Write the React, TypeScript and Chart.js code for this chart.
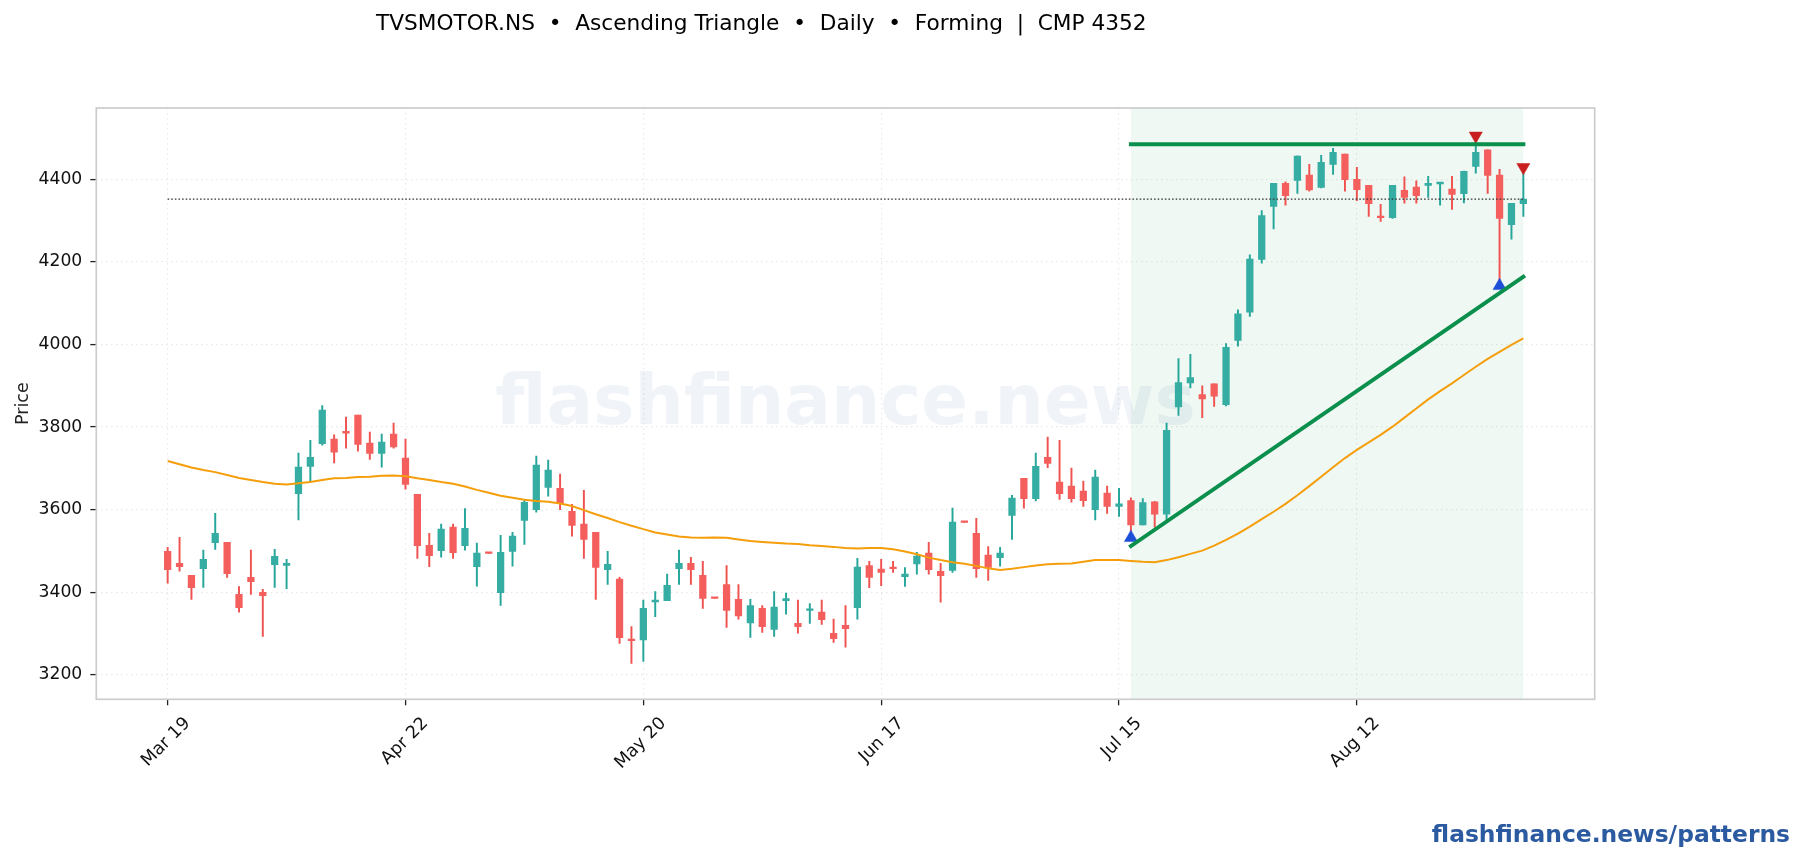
import React, { useEffect, useRef } from "react";
import { Chart, registerables } from "chart.js";

Chart.register(...registerables);

const titleText = "TVSMOTOR.NS  •  Ascending Triangle  •  Daily  •  Forming  |  CMP 4352";
const watermarkText = "flashfinance.news";
const footerText = "flashfinance.news/patterns";
const yAxisLabel = "Price";

const tickIndexes = [0, 20, 40, 60, 80, 100];
const tickDates = ["Mar 19", "Apr 22", "May 20", "Jun 17", "Jul 15", "Aug 12"];
const priceTicks = [3200, 3400, 3600, 3800, 4000, 4200, 4400];

const opens = [3499,3470,3441,3457,3520,3521,3395,3436,3400,3467,3465,3639,3705,3760,3771,3790,3829,3761,3736,3783,3725,3637,3514,3501,3558,3513,3462,3495,3399,3499,3574,3600,3654,3652,3596,3565,3545,3455,3432,3287,3285,3377,3380,3457,3470,3441,3386,3419,3383,3326,3361,3310,3380,3325,3356,3352,3301,3320,3363,3465,3456,3461,3438,3469,3495,3451,3453,3570,3543,3490,3484,3586,3676,3627,3727,3667,3657,3645,3600,3640,3608,3622,3563,3619,3589,3849,3907,3879,3905,3854,4010,4078,4206,4334,4390,4397,4410,4380,4436,4461,4400,4385,4309,4307,4373,4381,4385,4389,4376,4365,4431,4471,4410,4290,4341];
const highs = [3509,3533,3441,3502,3591,3521,3414,3502,3407,3504,3480,3737,3768,3852,3781,3824,3829,3788,3783,3810,3771,3637,3543,3565,3565,3603,3519,3495,3538,3545,3624,3730,3720,3686,3613,3647,3545,3499,3436,3317,3381,3402,3444,3502,3485,3475,3386,3465,3419,3383,3368,3402,3398,3381,3373,3381,3335,3368,3482,3475,3480,3475,3460,3497,3521,3470,3604,3570,3579,3511,3509,3635,3676,3737,3776,3768,3701,3669,3696,3657,3652,3629,3627,3620,3810,3966,3976,3900,3905,4002,4084,4217,4324,4390,4394,4457,4436,4458,4475,4461,4429,4385,4339,4385,4406,4396,4407,4391,4407,4420,4490,4471,4424,4342,4415];
const lows = [3422,3451,3383,3412,3504,3436,3352,3395,3293,3412,3409,3575,3666,3756,3713,3749,3742,3722,3703,3749,3650,3482,3462,3485,3482,3502,3415,3494,3368,3463,3516,3594,3633,3600,3536,3482,3383,3419,3276,3228,3233,3341,3380,3419,3419,3361,3385,3315,3335,3291,3303,3293,3347,3301,3325,3322,3279,3267,3335,3411,3416,3448,3414,3444,3444,3376,3448,3569,3436,3429,3463,3528,3604,3621,3702,3625,3618,3608,3575,3591,3584,3547,3563,3558,3574,3828,3895,3823,3850,3851,3996,4068,4197,4280,4337,4366,4371,4379,4412,4371,4348,4310,4298,4305,4342,4342,4356,4337,4327,4343,4415,4366,4150,4255,4310];
const closes = [3455,3462,3411,3480,3543,3445,3363,3426,3392,3487,3470,3703,3727,3841,3739,3785,3758,3736,3764,3752,3661,3513,3489,3553,3496,3555,3495,3494,3497,3536,3618,3708,3696,3615,3562,3528,3460,3468,3290,3283,3361,3381,3417,3470,3455,3385,3385,3356,3343,3368,3317,3364,3385,3317,3359,3334,3288,3312,3461,3436,3448,3457,3444,3488,3455,3440,3570,3569,3457,3460,3495,3628,3627,3705,3712,3639,3627,3622,3679,3608,3614,3563,3617,3589,3792,3908,3920,3868,3875,3993,4074,4207,4312,4390,4360,4456,4374,4441,4465,4399,4375,4341,4307,4385,4356,4360,4390,4391,4363,4419,4465,4409,4305,4342,4352];
const movingAverage = [3718,3710,3702,3696,3691,3684,3677,3672,3667,3663,3661,3664,3667,3672,3676,3677,3679,3680,3682,3683,3681,3676,3672,3667,3663,3656,3648,3641,3634,3629,3624,3621,3619,3615,3609,3599,3589,3580,3570,3561,3553,3545,3540,3535,3533,3532,3533,3532,3528,3524,3522,3520,3518,3517,3514,3512,3510,3507,3506,3507,3507,3504,3499,3492,3484,3478,3473,3469,3464,3458,3454,3457,3461,3465,3468,3469,3470,3474,3478,3478,3478,3476,3474,3473,3478,3485,3493,3501,3513,3527,3542,3559,3577,3595,3614,3635,3657,3680,3703,3725,3745,3763,3781,3801,3823,3845,3867,3887,3906,3926,3946,3965,3982,3999,4015];

const patternIndexes = [81, 114];
const resistancePrices = [4485, 4485];
const supportPrices = [3512, 4164];
const cmpIndexes = [0, 114];
const cmpPrices = [4352, 4352];
const topMarkerIndexes = [110, 114];
const topMarkerPrices = [4505, 4429];
const bottomMarkerIndexes = [81, 112];
const bottomMarkerPrices = [3532, 4142];

const FONT = "'DejaVu Sans'";
const WIDTH = 1804;
const HEIGHT = 860;

const decorations = {
  id: "decorations",
  beforeDatasetsDraw(chart: any) {
    const { ctx, chartArea: a, scales } = chart;
    const x0 = scales.x.getPixelForValue(patternIndexes[0]);
    const x1 = scales.x.getPixelForValue(patternIndexes[1]);
    ctx.save();
    ctx.fillStyle = "rgba(11,143,77,0.065)";
    ctx.fillRect(x0, a.top, x1 - x0, a.bottom - a.top);
    ctx.fillStyle = "rgba(44,90,160,0.07)";
    ctx.font = `bold 69.2px ${FONT}`;
    ctx.textAlign = "center";
    ctx.textBaseline = "alphabetic";
    ctx.fillText(watermarkText, (a.left + a.right) / 2, 424);
    ctx.restore();
  },
  afterDraw(chart: any) {
    const { ctx, chartArea: a } = chart;
    ctx.save();
    ctx.strokeStyle = "#cccccc";
    ctx.lineWidth = 1.7;
    ctx.strokeRect(a.left, a.top, a.right - a.left, a.bottom - a.top);
    ctx.fillStyle = "#000000";
    ctx.font = `21.67px ${FONT}`;
    ctx.textAlign = "left";
    ctx.textBaseline = "alphabetic";
    ctx.fillText(titleText, 376, 30);
    ctx.fillStyle = "#2c5aa0";
    ctx.font = `bold 23.4px ${FONT}`;
    ctx.textAlign = "right";
    ctx.fillText(footerText, 1790, 842);
    ctx.restore();
  },
};

export default function App() {
  const ref = useRef<HTMLCanvasElement | null>(null);
  useEffect(() => {
    document.body.style.margin = "0";
    const canvas = ref.current!;
    const rising = closes.map((c, i) => c >= opens[i]);
    const chart = new Chart(canvas, {
      type: "bar",
      data: {
        datasets: [
          {
            type: "line",
            data: cmpIndexes.map((x, i) => ({ x, y: cmpPrices[i] })),
            borderColor: "#333333",
            borderWidth: 1.3,
            borderDash: [1.6, 2],
            pointRadius: 0,
            order: 1,
          },
          {
            type: "line",
            data: patternIndexes.map((x, i) => ({ x, y: resistancePrices[i] })),
            borderColor: "#0b8f4d",
            borderWidth: 4,
            borderCapStyle: "square",
            pointRadius: 0,
            order: 2,
          },
          {
            type: "line",
            data: patternIndexes.map((x, i) => ({ x, y: supportPrices[i] })),
            borderColor: "#0b8f4d",
            borderWidth: 4,
            borderCapStyle: "square",
            pointRadius: 0,
            order: 2,
          },
          {
            type: "line",
            data: topMarkerIndexes.map((x, i) => ({ x, y: topMarkerPrices[i] })),
            showLine: false,
            pointStyle: "triangle",
            pointRotation: 180,
            pointRadius: 7.6,
            pointBackgroundColor: "#c81e1e",
            pointBorderColor: "#c81e1e",
            pointBorderWidth: 0.5,
            order: 3,
          },
          {
            type: "line",
            data: bottomMarkerIndexes.map((x, i) => ({ x, y: bottomMarkerPrices[i] })),
            showLine: false,
            pointStyle: "triangle",
            pointRadius: 7.6,
            pointBackgroundColor: "#1d4ed8",
            pointBorderColor: "#1d4ed8",
            pointBorderWidth: 0.5,
            order: 3,
          },
          {
            type: "line",
            data: movingAverage.map((y, x) => ({ x, y })),
            borderColor: "#f59e0b",
            borderWidth: 2,
            pointRadius: 0,
            tension: 0,
            order: 4,
          },
          {
            type: "bar",
            data: opens.map((o, x) => ({ x, y: [o, closes[x]] })),
            backgroundColor: rising.map((r) => (r ? "#35ada2" : "#f45f5d")),
            barThickness: 6.6,
            minBarLength: 1.6,
            grouped: false,
            order: 5,
          },
          {
            type: "bar",
            data: lows.map((l, x) => ({ x, y: [l, highs[x]] })),
            backgroundColor: rising.map((r) => (r ? "#26a69a" : "#ef5350")),
            barThickness: 1.3,
            grouped: false,
            order: 6,
          },
        ],
      } as any,
      options: {
        responsive: false,
        animation: false,
        devicePixelRatio: 1,
        events: [],
        layout: { padding: { top: 108, left: 0, right: 209.3, bottom: 60.7 } },
        plugins: { legend: { display: false }, tooltip: { enabled: false }, title: { display: false } },
        scales: {
          x: {
            type: "linear",
            min: -6,
            max: 120,
            offset: false,
            grid: {
              offset: false,
              color: "#e8e8e8",
              lineWidth: 1.2,
              tickColor: "#222222",
              tickWidth: 1.3,
              tickLength: 6,
              tickBorderDash: [],
            },
            border: { display: false, dash: [1.5, 3.5] },
            ticks: {
              autoSkip: false,
              minRotation: 45,
              maxRotation: 45,
              padding: 8,
              labelOffset: 20,
              color: "#111111",
              font: { family: FONT, size: 17.5 },
              callback: (v: any) => tickDates[tickIndexes.indexOf(Number(v))] ?? "",
            },
            afterBuildTicks: (s: any) => {
              s.ticks = tickIndexes.map((value) => ({ value }));
            },
            afterFit: (s: any) => {
              s.height = 100;
              s.paddingLeft = s.paddingRight = s.paddingTop = s.paddingBottom = 0;
            },
          },
          y: {
            type: "linear",
            min: 3141,
            max: 4572.5,
            beginAtZero: false,
            grid: {
              offset: false,
              color: "#e8e8e8",
              lineWidth: 1.2,
              tickColor: "#222222",
              tickWidth: 1.3,
              tickLength: 6,
              tickBorderDash: [],
            },
            border: { display: false, dash: [1.5, 3.5] },
            title: {
              display: true,
              text: yAxisLabel,
              color: "#222222",
              font: { family: FONT, size: 17.5 },
              padding: { top: 13, bottom: 0 },
            },
            ticks: {
              padding: 8,
              color: "#111111",
              font: { family: FONT, size: 17.2 },
              callback: (v: any) => String(v),
            },
            afterBuildTicks: (s: any) => {
              s.ticks = priceTicks.map((value) => ({ value }));
            },
            afterFit: (s: any) => {
              s.width = 96.3;
              s.paddingLeft = s.paddingRight = s.paddingTop = s.paddingBottom = 0;
            },
          },
        },
      } as any,
      plugins: [decorations],
    });
    return () => chart.destroy();
  }, []);
  return (
    <div style={{ position: "absolute", left: 0, top: 0, width: WIDTH, height: HEIGHT, background: "#ffffff" }}>
      <canvas ref={ref} width={WIDTH} height={HEIGHT} style={{ display: "block" }} />
    </div>
  );
}
